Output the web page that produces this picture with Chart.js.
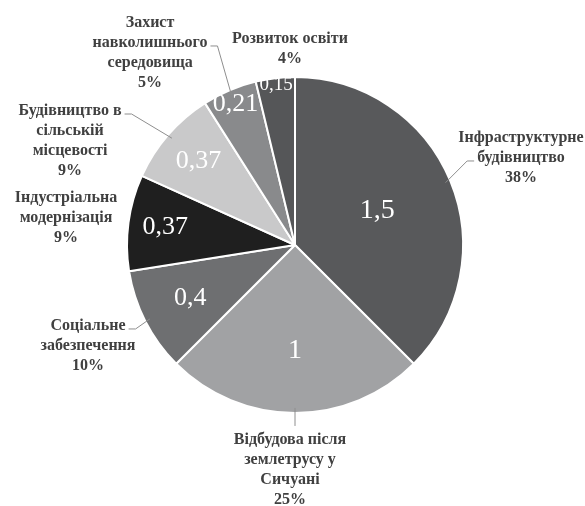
<!DOCTYPE html>
<html>
<head>
<meta charset="utf-8">
<script src="https://cdn.jsdelivr.net/npm/chart.js@4"></script>
<style>
  html, body { margin: 0; padding: 0; background: #ffffff; }
  canvas { display: block; }
</style>
</head>
<body>
<canvas id="pie" width="585" height="506"></canvas>
<script>
// Category names (one entry per slice, split into the lines they are printed on)
const categories = [
  ['Інфраструктурне', 'будівництво'],
  ['Відбудова після', 'землетрусу у', 'Сичуані'],
  ['Соціальне', 'забезпечення'],
  ['Індустріальна', 'модернізація'],
  ['Будівництво в', 'сільській', 'місцевості'],
  ['Захист', 'навколишнього', 'середовища'],
  ['Розвиток освіти']
];

// Slice values
const values = [1.5, 1, 0.4, 0.37, 0.37, 0.21, 0.15];

// Slice fills
const sliceColors = ['#58595b', '#a1a2a4', '#6e6f71', '#1f1f1f', '#c9c9ca', '#898a8c', '#555658'];

// Value-label placement inside each slice, as a fraction of the radius, and font size
const insideRadius = [0.53, 0.63, 0.70, 0.78, 0.76, 0.91, 0.96];
const insideFont = [28, 28, 26, 26, 26, 26, 19];

// Category-label block centres relative to the pie centre, in radius units
const outsidePos = [
  [1.345, -0.518],
  [-0.030, 1.339],
  [-1.232, 0.601],
  [-1.363, -0.161],
  [-1.339, -0.619],
  [-0.863, -1.143],
  [-0.030, -1.167]
];

// Leader lines: which text line they leave from and on which side
const leaders = [
  { line: 1, side: 'left' },
  { side: 'top' },
  { line: 0, side: 'right' },
  null,
  { line: 0, side: 'right' },
  { line: 1, side: 'right' },
  null
];

const total = values.reduce((a, b) => a + b, 0);
const valueText = v => String(v).replace('.', ',');
const percentText = v => Math.round(v / total * 100) + '%';

const SERIF = '"Liberation Serif", "Times New Roman", serif';

const sliceLabels = {
  id: 'sliceLabels',
  afterDatasetsDraw(chart) {
    const ctx = chart.ctx;
    const meta = chart.getDatasetMeta(0);
    meta.data.forEach((arc, i) => {
      const { x, y, startAngle, endAngle, outerRadius: R } =
        arc.getProps(['x', 'y', 'startAngle', 'endAngle', 'outerRadius'], true);
      const mid = (startAngle + endAngle) / 2;

      ctx.save();
      ctx.textAlign = 'center';
      ctx.textBaseline = 'middle';

      // value inside the slice
      const r = R * insideRadius[i];
      ctx.fillStyle = '#ffffff';
      ctx.font = insideFont[i] + 'px ' + SERIF;
      ctx.fillText(valueText(values[i]), x + Math.cos(mid) * r, y + Math.sin(mid) * r);

      // category name and percentage outside the pie
      const lines = categories[i].concat([percentText(values[i])]);
      const lh = 20;
      const bx = x + outsidePos[i][0] * R;
      const by = y + outsidePos[i][1] * R;
      const top = by - (lines.length - 1) * lh / 2;
      ctx.font = 'bold 16px ' + SERIF;
      ctx.fillStyle = '#404040';
      lines.forEach((t, k) => ctx.fillText(t, bx, top + k * lh));

      // leader line from the label to the slice edge
      const ld = leaders[i];
      if (ld) {
        const ex = x + Math.cos(mid) * R * 0.97;
        const ey = y + Math.sin(mid) * R * 0.97;
        ctx.strokeStyle = '#8e8e8e';
        ctx.lineWidth = 1;
        ctx.beginPath();
        if (ld.side === 'top') {
          ctx.moveTo(ex, top - 14);
          ctx.lineTo(ex, ey);
        } else {
          const w = ctx.measureText(lines[ld.line]).width;
          const dir = ld.side === 'right' ? 1 : -1;
          const sx = bx + dir * (w / 2 + 3);
          const sy = top + ld.line * lh + 3;
          ctx.moveTo(sx, sy);
          ctx.lineTo(sx + dir * 7, sy);
          ctx.lineTo(ex, ey);
        }
        ctx.stroke();
      }
      ctx.restore();
    });
  }
};

new Chart(document.getElementById('pie'), {
  type: 'pie',
  data: {
    labels: categories.map(c => c.join(' ')),
    datasets: [{
      data: values,
      backgroundColor: sliceColors,
      borderColor: '#ffffff',
      borderWidth: 2
    }]
  },
  options: {
    responsive: false,
    animation: false,
    layout: { padding: { left: 126, right: 121, top: 76, bottom: 92 } },
    plugins: {
      legend: { display: false },
      tooltip: { enabled: false }
    }
  },
  plugins: [sliceLabels]
});
</script>
</body>
</html>
